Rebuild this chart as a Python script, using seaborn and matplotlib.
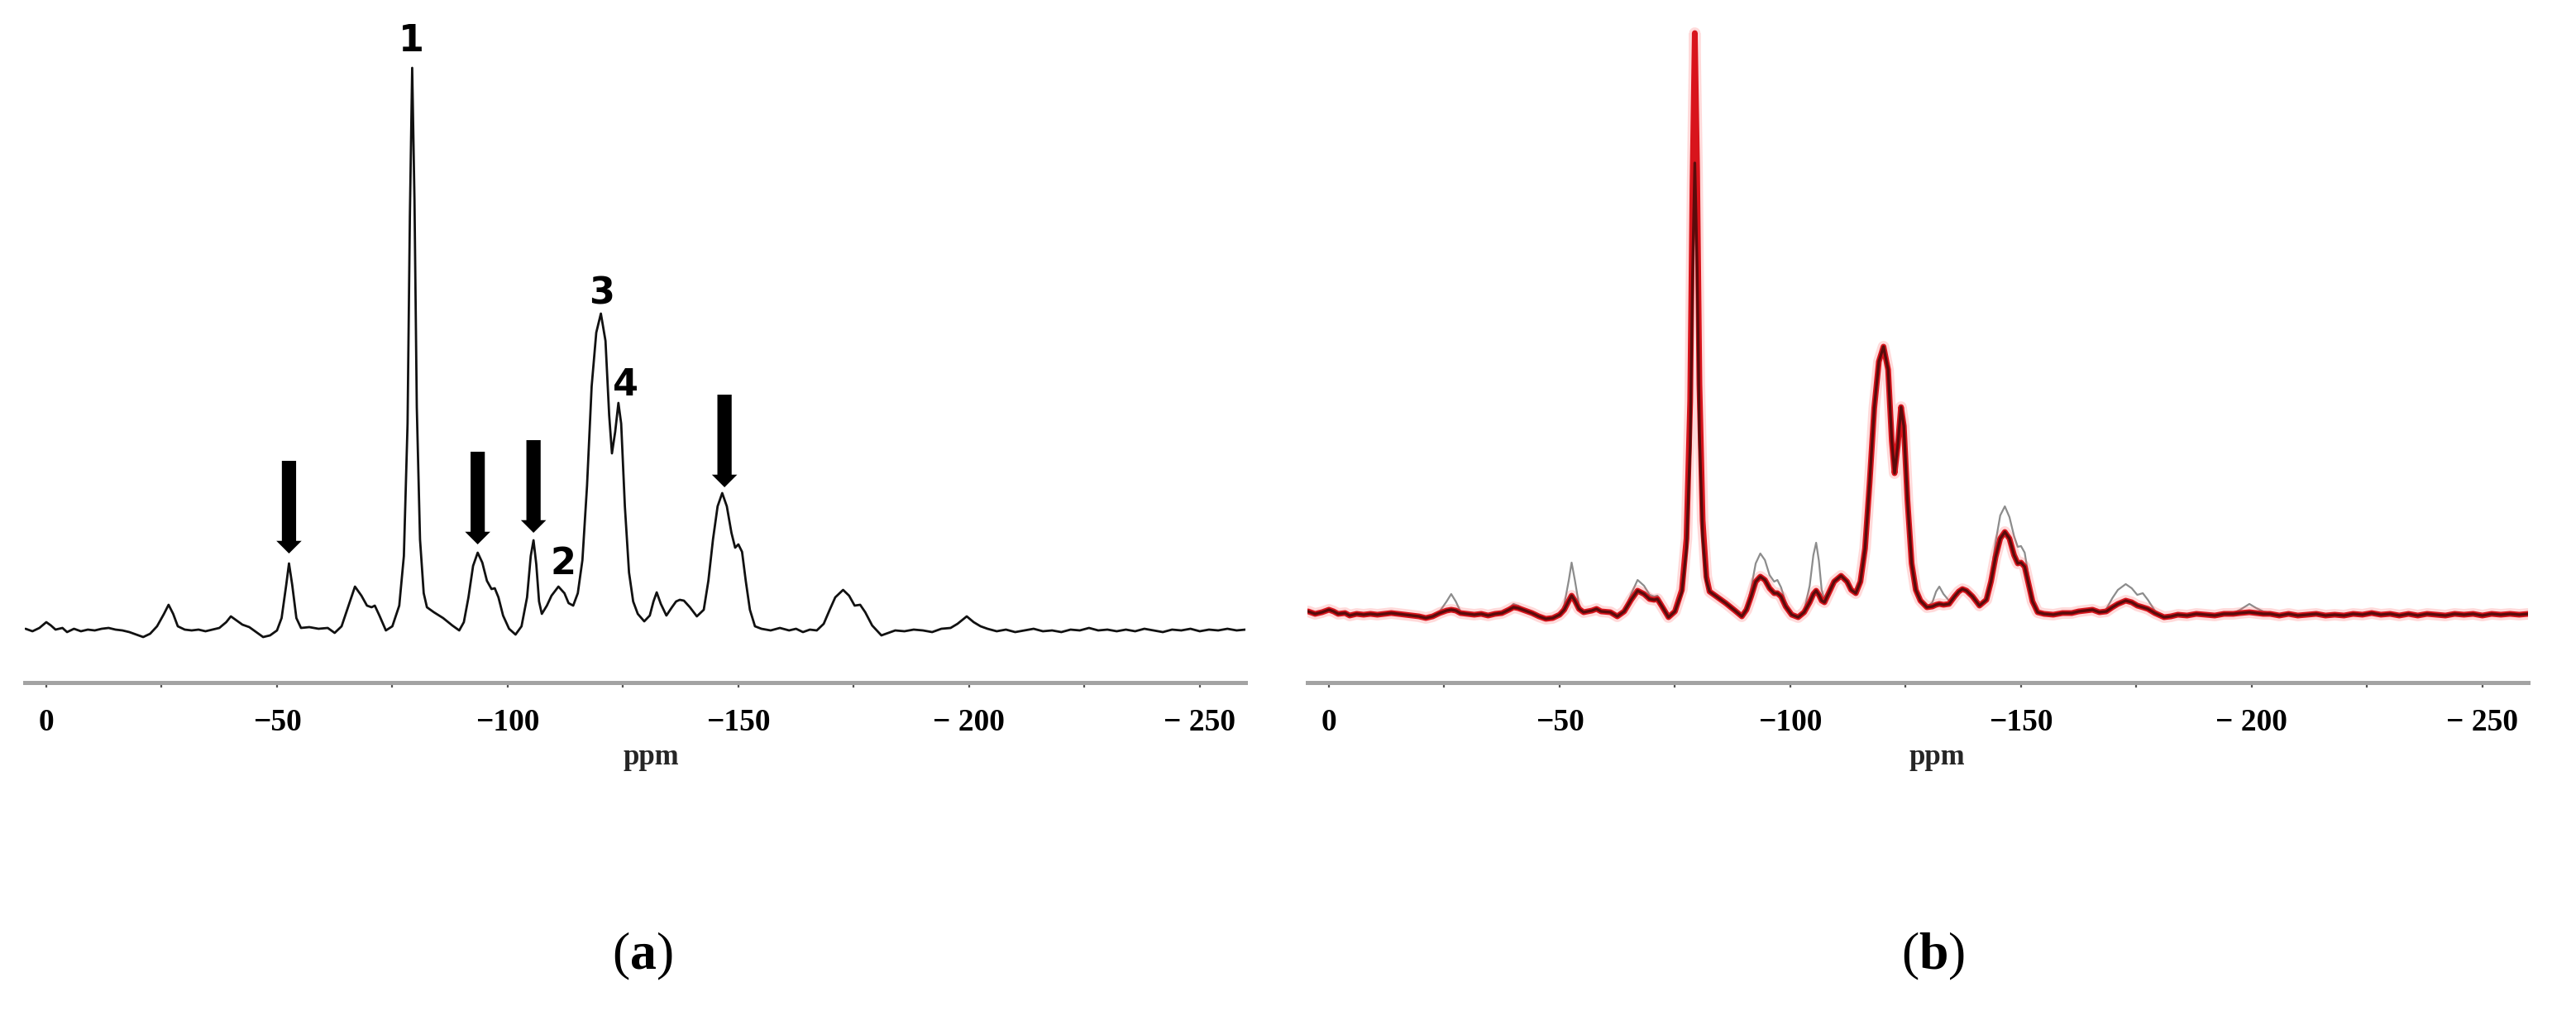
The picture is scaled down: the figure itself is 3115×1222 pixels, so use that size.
import matplotlib
matplotlib.use("Agg")
import matplotlib.pyplot as plt
import pandas as pd
import seaborn as sns

# ---------------- data ----------------
PPM = [4.5, 3, 1.5, 0, -1, -2, -3.5, -4.5, -6, -7.5,
       -9, -10.5, -12, -13.5, -15, -16.5, -18, -19.5, -21, -22.5,
       -24, -25.5, -26.5, -27.5, -28.5, -30, -31.5, -33, -34.5, -36,
       -37.5, -39, -40, -41, -42.5, -44, -45.5, -47, -48.5, -50,
       -51, -52, -52.6, -53.3, -54.2, -55.2, -57, -58, -59, -61,
       -62.5, -64, -65.5, -66.9, -68.3, -69.5, -70.5, -71.2, -72.2, -73.6,
       -75, -76.5, -77.5, -78.3, -78.8, -79.3, -79.8, -80.3, -81, -81.8,
       -82.5, -84, -86, -88, -89.5, -90.5, -91.5, -92.5, -93.5, -94.5,
       -95.5, -96.5, -97.2, -98, -99, -100.3, -101.7, -103, -104.2, -105,
       -105.6, -106.2, -106.8, -107.4, -108.5, -109.5, -111, -112.3, -113.2, -114.2,
       -115.2, -116.2, -117.2, -118.2, -119.2, -120.2, -121.2, -122, -122.6, -123.3,
       -124, -124.6, -125.4, -126.3, -127.2, -128.2, -129.6, -130.8, -131.6, -132.3,
       -133.2, -134.4, -135.6, -136.5, -137.3, -138.2, -139.5, -141, -142.5, -143.5,
       -144.5, -145.5, -146.5, -147.5, -148.5, -149.3, -150, -150.8, -151.6, -152.5,
       -153.6, -155, -157, -159, -161, -162.5, -164, -165.5, -167, -168.5,
       -169.8, -171, -172.7, -174, -175.2, -176.4, -177.5, -179, -181, -182.5,
       -184, -186, -188, -190, -192, -194, -196, -197.5, -199.5, -201,
       -202.5, -204, -206, -208, -210, -212, -214, -216, -218, -220,
       -222, -224, -226, -228, -230, -232, -234, -236, -238, -240,
       -242, -244, -246, -248, -250, -252, -254, -256, -258, -259.9]

# panel (a): single spectrum
LEFT = [2, -1, 3, 10, 6, 1, 3, -2, 2, -1,
        1, 0, 2, 3, 1, 0, -2, -5, -8, -4,
        5, 20, 31, 20, 5, 1, 0, 1, -1, 1,
        3, 10, 17, 13, 7, 4, -2, -8, -6, 0,
        15, 55, 81, 55, 15, 3, 4, 3, 2, 3,
        -3, 5, 30, 53, 42, 30, 28, 30, 18, 0,
        5, 30, 90, 250, 500, 680, 520, 270, 110, 45,
        28, 22, 15, 6, 0, 10, 40, 78, 94, 82,
        60, 50, 51, 40, 18, 2, -5, 5, 40, 90,
        109, 80, 35, 20, 30, 42, 53, 45, 33, 30,
        45, 85, 175, 295, 360, 383, 350, 260, 214, 240,
        275, 250, 150, 70, 35, 20, 11, 18, 35, 46,
        32, 18, 28, 35, 37, 36, 28, 17, 25, 60,
        110, 150, 166, 150, 118, 100, 104, 95, 60, 25,
        5, 2, 0, 3, 0, 2, -2, 1, 0, 8,
        25, 40, 49, 42, 30, 31, 22, 6, -6, -3,
        0, -1, 1, 0, -2, 2, 3, 8, 17, 10,
        5, 2, -1, 1, -2, 0, 2, -1, 0, -2,
        1, 0, 3, 0, 1, -1, 1, -1, 2, 0,
        -2, 1, 0, 2, -1, 1, 0, 2, 0, 1]

# panel (b): grey reference spectrum
GREY = [3, 0, 4, 8, 5, 1, 2, -1, 2, 0,
        1, 0, 2, 2, 1, 0, -1, -3, -6, -3,
        4, 16, 25, 16, 4, 1, 0, 1, -1, 1,
        2, 8, 13, 11, 6, 3, -2, -6, -5, 0,
        12, 42, 63, 42, 12, 3, 5, 7, 4, 3,
        -2, 5, 25, 42, 35, 24, 22, 23, 14, -3,
        4, 30, 92, 258, 517, 700, 530, 279, 114, 46,
        28, 22, 14, 5, -2, 8, 32, 62, 74, 66,
        48, 40, 42, 33, 15, 1, -3, 5, 35, 72,
        87, 65, 30, 18, 30, 40, 47, 40, 30, 26,
        40, 80, 160, 250, 306, 324, 296, 210, 171, 205,
        251, 228, 138, 62, 30, 17, 9, 15, 28, 34,
        25, 17, 25, 30, 31, 29, 22, 11, 20, 48,
        88, 120, 131, 118, 95, 82, 83, 75, 48, 20,
        3, 1, 0, 2, 0, 3, 4, 6, 2, 7,
        20, 30, 37, 32, 24, 26, 18, 5, -3, -2,
        0, -1, 1, 0, -1, 1, 2, 6, 13, 8,
        4, 2, -1, 1, -1, 0, 1, -1, 0, -1,
        1, 0, 2, 0, 1, -1, 1, -1, 1, 0,
        -1, 1, 0, 1, -1, 1, 0, 1, 0, 1]

# panel (b): red spectrum
RED = [4, 1, 3, 6, 4, 1, 2, -1, 1, 0,
       1, 0, 1, 2, 1, 0, -1, -2, -4, -2,
       2, 5, 6, 5, 2, 1, 0, 1, -1, 1,
       2, 6, 9, 8, 5, 2, -2, -5, -4, 0,
       6, 17, 23, 17, 7, 3, 5, 7, 4, 3,
       -2, 4, 18, 29, 25, 19, 18, 19, 10, -3,
       4, 30, 92, 258, 517, 703, 537, 279, 114, 46,
       28, 22, 14, 5, -2, 6, 22, 40, 46, 42,
       32, 26, 26, 22, 10, 0, -3, 3, 15, 25,
       29, 24, 17, 15, 28, 40, 47, 40, 30, 26,
       40, 80, 160, 250, 306, 324, 296, 210, 171, 205,
       251, 228, 138, 62, 30, 17, 9, 10, 12, 13,
       12, 13, 22, 28, 31, 29, 22, 11, 18, 40,
       70, 92, 100, 92, 72, 62, 63, 58, 38, 16,
       3, 1, 0, 2, 2, 4, 5, 6, 3, 4,
       9, 13, 17, 15, 11, 9, 7, 2, -3, -2,
       0, -1, 1, 0, -1, 1, 1, 2, 3, 2,
       1, 1, -1, 1, -1, 0, 1, -1, 0, -1,
       1, 0, 2, 0, 1, -1, 1, -1, 1, 0,
       -1, 1, 0, 1, -1, 1, 0, 1, 0, 1]

# panel (b): dark red spectrum
DARK = [4, 1, 3, 6, 4, 1, 2, -1, 1, 0,
        1, 0, 1, 2, 1, 0, -1, -2, -4, -2,
        2, 5, 6, 5, 2, 1, 0, 1, -1, 1,
        2, 6, 9, 8, 5, 2, -2, -5, -4, 0,
        6, 17, 23, 17, 7, 3, 5, 7, 4, 3,
        -2, 4, 18, 29, 25, 19, 18, 19, 10, -3,
        4, 28, 80, 205, 405, 546, 420, 220, 95, 42,
        28, 22, 14, 5, -2, 6, 22, 40, 46, 42,
        32, 26, 26, 22, 10, 0, -3, 3, 15, 25,
        29, 24, 17, 15, 28, 40, 47, 40, 30, 26,
        40, 80, 160, 250, 306, 324, 296, 210, 171, 205,
        251, 228, 138, 62, 30, 17, 9, 10, 12, 13,
        12, 13, 22, 28, 31, 29, 22, 11, 18, 40,
        70, 92, 100, 92, 72, 62, 63, 58, 38, 16,
        3, 1, 0, 2, 2, 4, 5, 6, 3, 4,
        9, 13, 17, 15, 11, 9, 7, 2, -3, -2,
        0, -1, 1, 0, -1, 1, 1, 2, 3, 2,
        1, 1, -1, 1, -1, 0, 1, -1, 0, -1,
        1, 0, 2, 0, 1, -1, 1, -1, 1, 0,
        -1, 1, 0, 1, -1, 1, 0, 1, 0, 1]

TICKS = [0, -25, -50, -75, -100, -125, -150, -175, -200, -225, -250]
TICK_LABELS = ["0", "", "\u221250", "", "\u2212100", "", "\u2212150", "",
               "\u2212 200", "", "\u2212 250"]

PEAK_LABELS = ["1", "2", "3", "4"]
PEAK_LABEL_PPM = [-79.2, -112.0, -120.4, -125.6]
PEAK_LABEL_Y = [712, 80, 407, 297]

ARROW_PPM = [-52.6, -93.5, -105.6, -147.0]
ARROW_TOP = [205, 216, 230, 285]
ARROW_TIP = [93, 104, 118, 173]

PANEL_LABELS = ["a", "b"]

# ---------------- figure ----------------
sns.set_theme(style="white")
plt.rcParams["font.family"] = ["Liberation Serif", "DejaVu Serif"]
plt.rcParams["mathtext.fontset"] = "custom"
plt.rcParams["mathtext.rm"] = "Liberation Serif"
plt.rcParams["mathtext.bf"] = "Liberation Serif:bold"

W, H = 3115, 1222
fig = plt.figure(figsize=(W / 100, H / 100), dpi=100, facecolor="white")


def rect(x0, x1, ytop, ybot):
    return [x0 / W, 1 - ybot / H, (x1 - x0) / W, (ybot - ytop) / H]


axL = fig.add_axes(rect(30, 1506, 20, 825))
axR = fig.add_axes(rect(1581, 3057, 20, 825))

dfL = pd.DataFrame({"ppm": PPM, "I": LEFT})
dfR = pd.DataFrame({"ppm": PPM, "grey": GREY, "red": RED, "dark": DARK})

sns.lineplot(data=dfL, x="ppm", y="I", ax=axL, sort=False, estimator=None,
             color="#111111", linewidth=2.0)

sns.lineplot(data=dfR, x="ppm", y="grey", ax=axR, sort=False, estimator=None,
             color="#8c8c8c", linewidth=1.6)
sns.lineplot(data=dfR, x="ppm", y="red", ax=axR, sort=False, estimator=None,
             color="#ff5a5a", linewidth=10, alpha=0.22)
sns.lineplot(data=dfR, x="ppm", y="red", ax=axR, sort=False, estimator=None,
             color="#d8141c", linewidth=5)
sns.lineplot(data=dfR, x="ppm", y="dark", ax=axR, sort=False, estimator=None,
             color="#5a0b0b", linewidth=2.4)

for ax, ylim in ((axL, (-63, 742)), (axR, (-82, 723))):
    ax.set_xlim(4.66, -259.9)
    ax.set_ylim(*ylim)
    ax.set_facecolor("white")
    for s in ("left", "right", "top"):
        ax.spines[s].set_visible(False)
    ax.spines["bottom"].set_color("#a3a3a3")
    ax.spines["bottom"].set_linewidth(3.6)
    ax.set_yticks([])
    ax.set_xticks(TICKS)
    ax.set_xticklabels(TICK_LABELS, fontweight="bold", fontsize=27)
    ax.tick_params(axis="x", bottom=True, direction="out", length=4, width=1.6,
                   color="#555555", pad=18, labelcolor="black")
    ax.set_xlabel("")
    ax.set_ylabel("")

# peak numbers
for lab, px, py in zip(PEAK_LABELS, PEAK_LABEL_PPM, PEAK_LABEL_Y):
    axL.text(px, py, lab, ha="center", va="center", fontsize=32,
             fontweight="bold", family="DejaVu Sans", color="black")

# arrows
for px, top, tip in zip(ARROW_PPM, ARROW_TOP, ARROW_TIP):
    axL.annotate("", xy=(px, tip), xytext=(px, top),
                 arrowprops=dict(arrowstyle="simple,head_length=0.55,head_width=1.1,tail_width=0.62",
                                 fc="black", ec="black", lw=0, shrinkA=0, shrinkB=0,
                                 mutation_scale=20))

# axis titles
fig.text(787 / W, 1 - 915 / H, "ppm", ha="center", va="center", fontsize=25,
         fontweight="bold")
fig.text(2342 / W, 1 - 915 / H, "ppm", ha="center", va="center", fontsize=25,
         fontweight="bold")

# panel labels
for lab, cx in zip(PANEL_LABELS, (777, 2338)):
    fig.text(cx / W, 1 - 1156 / H, "(" + r"$\mathbf{" + lab + "}$" + ")",
             ha="center", va="center", fontsize=46, color="black")

fig.savefig("out.png", dpi=100, facecolor="white")
